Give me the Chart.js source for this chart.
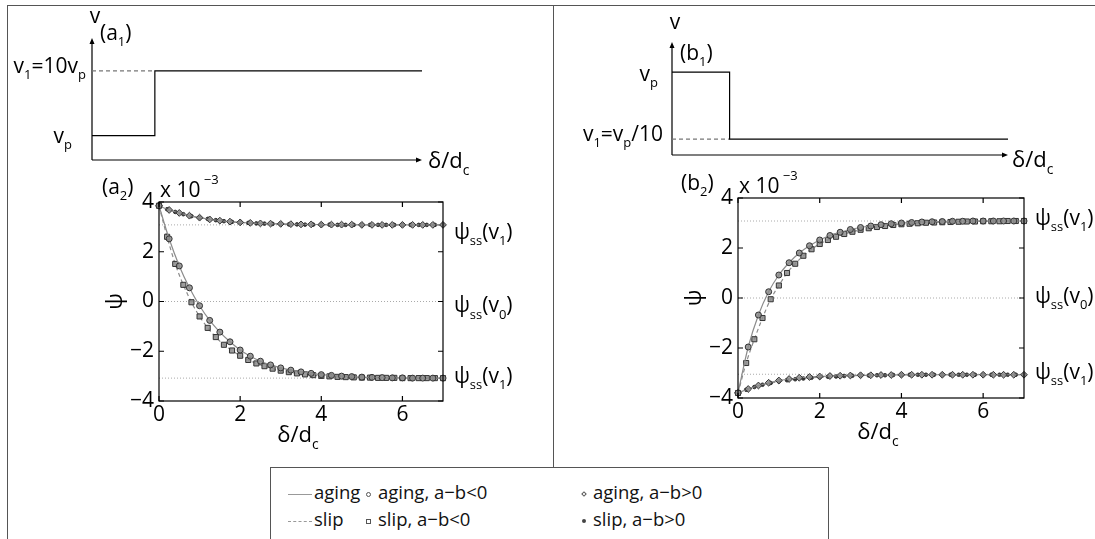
<!DOCTYPE html>
<html lang="ja">
<head>
<meta charset="utf-8">
<title>ψ の推移</title>
<script src="https://cdn.jsdelivr.net/npm/chart.js@4.4.1/dist/chart.umd.min.js"></script>
<style>
  body { margin: 0; width: 1095px; height: 539px; overflow: hidden; position: relative; background: #fff;
         font-family: "Open Sans", "DejaVu Sans", sans-serif; color: #111; }
  canvas { position: absolute; }
  .rule { position: absolute; border: 0 solid #555; }
  #legend { position: absolute; left: 270px; top: 467px; width: 557px; height: 100px;
            border: 1.5px solid #555; background: #fff; font-size: 18.5px; }
  #legend .item { position: absolute; white-space: nowrap; line-height: 24px; }
  .ln { display: inline-block; width: 24px; border-top: 1.5px solid #999; vertical-align: middle; margin-right: 2px; }
  .ln.dash { border-top-style: dashed; }
  .mk { display: inline-block; vertical-align: middle; margin-right: 7px; box-sizing: border-box; }
  .mk.circ { width: 5px; height: 5px; border: 1px solid #555; border-radius: 50%; }
  .mk.sq { width: 5px; height: 5px; border: 1px solid #555; }
  .mk.dia { width: 4px; height: 4px; border: 1px solid #555; transform: rotate(45deg); }
  .mk.dot { width: 4px; height: 4px; background: #444; border-radius: 50%; }
</style>
</head>
<body>
<!-- 外枠と区切り線 -->
<div class="rule" style="left:7px;top:5px;width:1100px;height:600px;border-left-width:1.5px;border-top-width:1.5px"></div>
<div class="rule" style="left:553px;top:5px;height:462px;border-left-width:1.5px"></div>

<canvas id="a1" width="550" height="175" style="left:0;top:0"></canvas>
<canvas id="b1" width="539" height="175" style="left:556px;top:0"></canvas>
<canvas id="a2" width="450" height="295" style="left:95px;top:165px"></canvas>
<canvas id="b2" width="423" height="298" style="left:672px;top:162px"></canvas>

<div id="legend">
  <div class="item" style="left:17px;top:12px"><span class="ln"></span>aging</div>
  <div class="item" style="left:17px;top:39px"><span class="ln dash"></span>slip</div>
  <div class="item" style="left:95px;top:12px"><span class="mk circ"></span>aging, a−b&lt;0</div>
  <div class="item" style="left:95px;top:39px"><span class="mk sq"></span>slip, a−b&lt;0</div>
  <div class="item" style="left:311px;top:12px"><span class="mk dia"></span>aging, a−b&gt;0</div>
  <div class="item" style="left:311px;top:39px"><span class="mk dot"></span>slip, a−b&gt;0</div>
</div>

<script>
const FONT = '"Open Sans", "DejaVu Sans", sans-serif';
const SIZE = 21;

// ---- 上段: 速度履歴の模式図 (横軸 δ/dc, 縦軸 v) ----
const a1X = [0, 2, 2, 10.5];
const a1V = [1, 1, 3.65, 3.65];
const a1DashX = [0, 2];
const a1DashV = [3.65, 3.65];

const b1X = [0, 1.8, 1.8, 10.5];
const b1V = [3.67, 3.67, 0.7, 0.7];
const b1DashX = [0, 1.8];
const b1DashV = [0.7, 0.7];

// ---- 下段: ψ の推移 (単位 ×10^-3) ----
// aging は 0.25 刻み, slip は 0.2 刻み
const xAging = [0, 0.25, 0.5, 0.75, 1, 1.25, 1.5, 1.75, 2, 2.25, 2.5, 2.75, 3, 3.25, 3.5, 3.75,
                4, 4.25, 4.5, 4.75, 5, 5.25, 5.5, 5.75, 6, 6.25, 6.5, 6.75, 7];
const xSlip = [0, 0.2, 0.4, 0.6, 0.8, 1, 1.2, 1.4, 1.6, 1.8, 2, 2.2, 2.4, 2.6, 2.8, 3, 3.2, 3.4,
               3.6, 3.8, 4, 4.2, 4.4, 4.6, 4.8, 5, 5.2, 5.4, 5.6, 5.8, 6, 6.2, 6.4, 6.6, 6.8, 7];

// (a2) v1 = 10vp
const agingNegA = [3.85, 2.52, 1.43, 0.55, -0.17, -0.76, -1.23, -1.62, -1.95, -2.2, -2.4, -2.55, -2.67, -2.76,
                   -2.83, -2.89, -2.94, -2.97, -3.0, -3.02, -3.04, -3.05, -3.06, -3.07, -3.07, -3.08, -3.08, -3.08, -3.08];
const slipNegA = [3.85, 2.6, 1.51, 0.67, -0.03, -0.6, -1.06, -1.43, -1.74, -1.97, -2.18, -2.35, -2.49, -2.6,
                  -2.7, -2.78, -2.84, -2.89, -2.93, -2.96, -2.99, -3.01, -3.03, -3.04, -3.05, -3.06, -3.06, -3.07,
                  -3.07, -3.07, -3.08, -3.08, -3.08, -3.08, -3.08, -3.08];
const agingPosA = [3.85, 3.68, 3.56, 3.45, 3.37, 3.3, 3.25, 3.21, 3.18, 3.16, 3.14, 3.13, 3.12, 3.11, 3.1,
                   3.1, 3.09, 3.09, 3.09, 3.09, 3.08, 3.08, 3.08, 3.08, 3.08, 3.08, 3.08, 3.08, 3.08];
const slipPosA = [3.85, 3.71, 3.6, 3.51, 3.43, 3.37, 3.32, 3.27, 3.23, 3.2, 3.18, 3.16, 3.14, 3.13, 3.12,
                  3.11, 3.1, 3.1, 3.09, 3.09, 3.09, 3.09, 3.08, 3.08, 3.08, 3.08, 3.08, 3.08, 3.08, 3.08,
                  3.08, 3.08, 3.08, 3.08, 3.08, 3.08];

// (b2) v1 = vp/10
const agingNegB = [-3.8, -1.96, -0.68, 0.25, 0.92, 1.41, 1.8, 2.09, 2.32, 2.5, 2.63, 2.74, 2.82, 2.88,
                   2.93, 2.97, 3.0, 3.02, 3.04, 3.05, 3.06, 3.07, 3.07, 3.08, 3.08, 3.08, 3.08, 3.08, 3.08];
const slipNegB = [-3.8, -2.6, -1.65, -0.8, -0.05, 0.5, 1.0, 1.37, 1.69, 1.95, 2.16, 2.32, 2.45, 2.56, 2.65,
                  2.73, 2.79, 2.84, 2.88, 2.92, 2.95, 2.97, 2.99, 3.01, 3.02, 3.03, 3.04, 3.05, 3.06, 3.06,
                  3.07, 3.07, 3.07, 3.08, 3.08, 3.08];
const agingPosB = [-3.8, -3.64, -3.5, -3.39, -3.3, -3.24, -3.19, -3.16, -3.14, -3.12, -3.11, -3.1, -3.09,
                   -3.09, -3.08, -3.08, -3.07, -3.07, -3.07, -3.07, -3.07, -3.07, -3.07, -3.07, -3.07, -3.07,
                   -3.07, -3.07, -3.07];
const slipPosB = [-3.8, -3.67, -3.56, -3.47, -3.4, -3.34, -3.29, -3.25, -3.22, -3.19, -3.17, -3.15, -3.14,
                  -3.12, -3.11, -3.1, -3.1, -3.09, -3.09, -3.08, -3.08, -3.07, -3.07, -3.07, -3.07, -3.07,
                  -3.07, -3.07, -3.07, -3.07, -3.07, -3.07, -3.07, -3.07, -3.07, -3.07];

const xTicks = [0, 2, 4, 6];
const yTicks = [-4, -2, 0, 2, 4];

// 定常値 ψss の点線と右側ラベル
const ssLevelsA = [3.08, 0, -3.08];
const ssLevelsB = [3.08, 0, -3.05];
const ssLabelPosA = [2.8, -0.15, -3.0];
const ssLabelPosB = [3.2, 0.08, -2.96];
const ssLabelSub = ['1', '0', '1'];

function pts(xs, ys) {
    return xs.map((x, i) => ({ x: x, y: ys[i] }));
}

// 下付き・上付きを含む文字列を描く
function richText(ctx, parts, x, y, size, align) {
    const small = Math.round(size * 0.62);
    let w = 0;
    parts.forEach(p => {
        ctx.font = `${p[1] ? small : size}px ${FONT}`;
        w += ctx.measureText(p[0]).width;
    });
    let cx = align === 'right' ? x - w : align === 'center' ? x - w / 2 : x;
    ctx.textAlign = 'left';
    ctx.textBaseline = 'alphabetic';
    ctx.fillStyle = '#000';
    parts.forEach(p => {
        ctx.font = `${p[1] ? small : size}px ${FONT}`;
        const dy = p[1] === 'sub' ? size * 0.3 : p[1] === 'sup' ? -size * 0.62 : 0;
        ctx.fillText(p[0], cx, y + dy);
        cx += ctx.measureText(p[0]).width;
    });
}

// 矢印付きの座標軸
const arrowAxes = {
    id: 'arrowAxes',
    beforeDatasetsDraw(chart) {
        const { ctx, chartArea: a } = chart;
        ctx.save();
        ctx.strokeStyle = '#000';
        ctx.fillStyle = '#000';
        ctx.lineWidth = 1.2;
        ctx.beginPath();
        ctx.moveTo(a.left, a.bottom); ctx.lineTo(a.left, a.top + 3);
        ctx.moveTo(a.left, a.bottom); ctx.lineTo(a.right - 3, a.bottom);
        ctx.stroke();
        ctx.beginPath();
        ctx.moveTo(a.left, a.top); ctx.lineTo(a.left - 2.5, a.top + 6); ctx.lineTo(a.left + 2.5, a.top + 6); ctx.closePath();
        ctx.moveTo(a.right, a.bottom); ctx.lineTo(a.right - 6, a.bottom - 2.5); ctx.lineTo(a.right - 6, a.bottom + 2.5); ctx.closePath();
        ctx.fill();
        ctx.restore();
    }
};

function stepChart(id, xs, vs, dashXs, dashVs, xMax, pad, drawLabels) {
    return new Chart(document.getElementById(id), {
        type: 'scatter',
        data: {
            datasets: [
                { data: pts(xs, vs), showLine: true, borderColor: '#000', borderWidth: 1.2, pointRadius: 0 },
                { data: pts(dashXs, dashVs), showLine: true, borderColor: '#777', borderWidth: 1.2,
                  borderDash: [4, 3], pointRadius: 0 }
            ]
        },
        options: {
            responsive: false,
            animation: false,
            layout: { padding: pad },
            plugins: { legend: { display: false }, tooltip: { enabled: false } },
            scales: {
                x: { display: false, min: 0, max: xMax },
                y: { display: false, min: 0, max: 5 }
            }
        },
        plugins: [arrowAxes, {
            id: 'stepLabels',
            afterDraw(chart) { drawLabels(chart.ctx, chart.chartArea, chart.scales.y); }
        }]
    });
}

// MATLAB 風の枠・内向き目盛と文字
function frameLabels(tag, levelsLabel) {
    return {
        id: 'frameLabels',
        afterDraw(chart) {
            const { ctx, chartArea: a, scales: { x, y } } = chart;
            ctx.save();
            ctx.strokeStyle = '#000';
            ctx.lineWidth = 1.2;
            ctx.strokeRect(a.left, a.top, a.right - a.left, a.bottom - a.top);
            ctx.beginPath();
            xTicks.forEach(v => {
                const px = x.getPixelForValue(v);
                ctx.moveTo(px, a.bottom); ctx.lineTo(px, a.bottom - 5);
                ctx.moveTo(px, a.top); ctx.lineTo(px, a.top + 5);
            });
            yTicks.forEach(v => {
                const py = y.getPixelForValue(v);
                ctx.moveTo(a.left, py); ctx.lineTo(a.left + 5, py);
                ctx.moveTo(a.right, py); ctx.lineTo(a.right - 5, py);
            });
            ctx.stroke();

            richText(ctx, [['(' + tag[0]], [tag[1], 'sub'], [')']], a.left - 57, a.top - 8, SIZE, 'left');
            richText(ctx, [['x 10'], [' −3', 'sup']], a.left + 1, a.top - 5, SIZE, 'left');
            richText(ctx, [['δ/d'], ['c', 'sub']], (a.left + a.right) / 2 - 3, a.bottom + 41, SIZE + 1, 'center');

            // 縦軸ラベル ψ (回転)
            ctx.save();
            ctx.translate(a.left - 44, (a.top + a.bottom) / 2);
            ctx.rotate(-Math.PI / 2);
            richText(ctx, [['ψ']], 0, 7, SIZE + 1, 'center');
            ctx.restore();

            levelsLabel.forEach((v, i) => {
                richText(ctx, [['ψ'], ['ss', 'sub'], ['(v'], [ssLabelSub[i], 'sub'], [')']],
                         a.right + 11, y.getPixelForValue(v) + 7, SIZE, 'left');
            });
            ctx.restore();
        }
    };
}

function psiChart(id, series, levels, levelsLabel, tag, pad, yWidth, xHeight) {
    const gray = '#8c8c8c';
    const refSets = levels.map(v => ({
        data: pts([0, 7], [v, v]), showLine: true, borderColor: '#aaa', borderWidth: 1,
        borderDash: [1, 2], pointRadius: 0, order: 10
    }));
    const marker = { pointBorderColor: '#333', pointBackgroundColor: 'rgba(140,140,140,0.85)',
                     pointBorderWidth: 1, clip: false, cubicInterpolationMode: 'monotone', showLine: true };
    return new Chart(document.getElementById(id), {
        type: 'scatter',
        data: {
            datasets: [
                Object.assign({ label: 'aging, a−b<0', data: pts(xAging, series.agingNeg), borderColor: gray,
                                borderWidth: 1.2, pointStyle: 'circle', pointRadius: 3 }, marker),
                Object.assign({ label: 'slip, a−b<0', data: pts(xSlip, series.slipNeg), borderColor: gray,
                                borderWidth: 1.2, borderDash: [4, 3], pointStyle: 'rect', pointRadius: 3.6 }, marker),
                Object.assign({ label: 'aging, a−b>0', data: pts(xAging, series.agingPos), borderColor: gray,
                                borderWidth: 1.2, pointStyle: 'rectRot', pointRadius: 3.4 }, marker),
                Object.assign({ label: 'slip, a−b>0', data: pts(xSlip, series.slipPos), borderColor: gray,
                                borderWidth: 1.2, borderDash: [4, 3], pointStyle: 'circle', pointRadius: 1.8 },
                              marker, { pointBackgroundColor: '#333' })
            ].concat(refSets)
        },
        options: {
            responsive: false,
            animation: false,
            layout: { padding: pad },
            plugins: { legend: { display: false }, tooltip: { enabled: false } },
            scales: {
                x: {
                    type: 'linear', min: 0, max: 7,
                    afterBuildTicks: s => { s.ticks = xTicks.map(v => ({ value: v })); },
                    afterFit: s => { s.height = xHeight; },
                    grid: { display: false, drawTicks: false },
                    border: { display: false },
                    ticks: { color: '#000', padding: 1, font: { family: FONT, size: SIZE } }
                },
                y: {
                    type: 'linear', min: -4, max: 4,
                    afterBuildTicks: s => { s.ticks = yTicks.map(v => ({ value: v })); },
                    afterFit: s => { s.width = yWidth; },
                    grid: { display: false, drawTicks: false },
                    border: { display: false },
                    ticks: { color: '#000', padding: 5, font: { family: FONT, size: SIZE },
                             callback: v => String(v).replace('-', '−') }
                }
            }
        },
        plugins: [frameLabels(tag, levelsLabel)]
    });
}

stepChart('a1', a1X, a1V, a1DashX, a1DashV, 10.5, { left: 92, right: 128, top: 38, bottom: 15 },
    (ctx, a, y) => {
        richText(ctx, [['v']], a.left + 3, 23, SIZE, 'center');
        richText(ctx, [['(a'], ['1', 'sub'], [')']], a.left + 8, 40, SIZE, 'left');
        richText(ctx, [['v'], ['1', 'sub'], ['=10v'], ['p', 'sub']], a.left - 6, y.getPixelForValue(a1V[2]) + 2, SIZE, 'right');
        richText(ctx, [['v'], ['p', 'sub']], a.left - 20, y.getPixelForValue(a1V[0]) + 7, SIZE, 'right');
        richText(ctx, [['δ/d'], ['c', 'sub']], a.right + 6, a.bottom + 8, SIZE + 1, 'left');
    });

stepChart('b1', b1X, b1V, b1DashX, b1DashV, 10.5, { left: 116, right: 87, top: 42, bottom: 20 },
    (ctx, a, y) => {
        richText(ctx, [['v']], a.left + 3, 29, SIZE, 'center');
        richText(ctx, [['(b'], ['1', 'sub'], [')']], a.left + 8, 60, SIZE, 'left');
        richText(ctx, [['v'], ['p', 'sub']], a.left - 14, y.getPixelForValue(b1V[0]) + 9, SIZE, 'right');
        richText(ctx, [['v'], ['1', 'sub'], ['=v'], ['p', 'sub'], ['/10']], a.left - 9, y.getPixelForValue(b1V[2]) + 2, SIZE, 'right');
        richText(ctx, [['δ/d'], ['c', 'sub']], a.right + 4, a.bottom + 12, SIZE + 1, 'left');
    });

psiChart('a2', { agingNeg: agingNegA, slipNeg: slipNegA, agingPos: agingPosA, slipPos: slipPosA },
    ssLevelsA, ssLabelPosA, ['a', '2'], { left: 0, top: 37, right: 102, bottom: 0 }, 64, 59);

psiChart('b2', { agingNeg: agingNegB, slipNeg: slipNegB, agingPos: agingPosB, slipPos: slipPosB },
    ssLevelsB, ssLabelPosB, ['b', '2'], { left: 0, top: 36, right: 71, bottom: 0 }, 66, 62);
</script>
</body>
</html>
